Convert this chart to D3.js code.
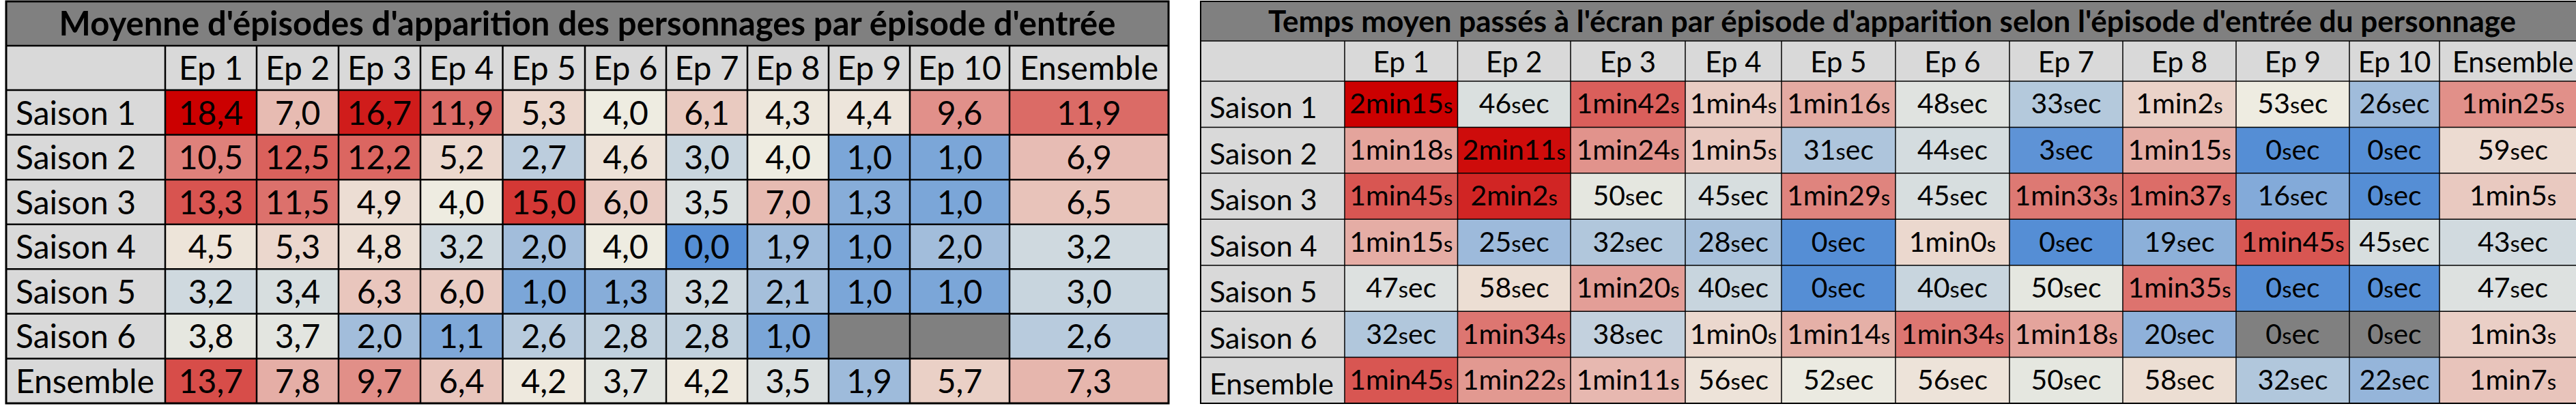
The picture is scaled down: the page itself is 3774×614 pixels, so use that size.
<!DOCTYPE html>
<html><head><meta charset="utf-8">
<script src="https://cdn.jsdelivr.net/npm/d3@7/dist/d3.min.js"></script>
<style>
body{margin:0;background:#fff}
svg{display:block}
text{font-family:Lato,"Open Sans","Noto Sans",sans-serif;fill:#000}
</style>
</head><body>
<svg id="chart" width="3774" height="614"></svg>
<script>
// ---------- data ----------
const rowLabels = ["Saison 1","Saison 2","Saison 3","Saison 4","Saison 5","Saison 6","Ensemble"];
const colLabels = ["Ep 1","Ep 2","Ep 3","Ep 4","Ep 5","Ep 6","Ep 7","Ep 8","Ep 9","Ep 10","Ensemble"];
const titleLeft = "Moyenne d'épisodes d'apparition des personnages par épisode d'entrée";
const titleRight = "Temps moyen passés à l'écran par épisode d'apparition selon l'épisode d'entrée du personnage";

// average number of episodes of appearance (null = episode does not exist)
const avgEpisodes = [
  [18.4, 7.0, 16.7, 11.9, 5.3, 4.0, 6.1, 4.3, 4.4, 9.6, 11.9],
  [10.5, 12.5, 12.2, 5.2, 2.7, 4.6, 3.0, 4.0, 1.0, 1.0, 6.9],
  [13.3, 11.5, 4.9, 4.0, 15.0, 6.0, 3.5, 7.0, 1.3, 1.0, 6.5],
  [4.5, 5.3, 4.8, 3.2, 2.0, 4.0, 0.0, 1.9, 1.0, 2.0, 3.2],
  [3.2, 3.4, 6.3, 6.0, 1.0, 1.3, 3.2, 2.1, 1.0, 1.0, 3.0],
  [3.8, 3.7, 2.0, 1.1, 2.6, 2.8, 2.8, 1.0, null, null, 2.6],
  [13.7, 7.8, 9.7, 6.4, 4.2, 3.7, 4.2, 3.5, 1.9, 5.7, 7.3]
];

// average screen time per episode of appearance, in seconds
const screenTimeSec = [
  [135, 46, 102, 64, 76, 48, 33, 62, 53, 26, 85],
  [78, 131, 84, 65, 31, 44, 3, 75, 0, 0, 59],
  [105, 122, 50, 45, 89, 45, 93, 97, 16, 0, 65],
  [75, 25, 32, 28, 0, 60, 0, 19, 105, 45, 43],
  [47, 58, 80, 40, 0, 40, 50, 95, 0, 0, 47],
  [32, 94, 38, 60, 74, 94, 78, 20, 0, 0, 63],
  [105, 82, 71, 56, 52, 56, 50, 58, 32, 22, 67]
];

// ---------- styles / layout ----------
const BLUE = "#558ED5", MID = "#EEECE1", RED = "#CC0000";
const GREY_TITLE = "#808080", GREY_HEAD = "#D9D9D9", GREY_EMPTY = "#808080";

const svg = d3.select("#chart");

function drawTable(cfg) {
  const g = svg.append("g");
  const nCols = colLabels.length + 1;
  const keys = ["__label", ...colLabels];
  const edges = [cfg.x0, ...d3.cumsum(cfg.colWidths).map(v => cfg.x0 + v)];
  const xLeft = d3.scaleOrdinal().domain(keys).range(edges.slice(0, nCols));
  const xWidth = d3.scaleOrdinal().domain(keys).range(cfg.colWidths);
  const x1 = edges[edges.length - 1];
  const headerTop = cfg.top + cfg.titleH;
  const bodyTop = headerTop + cfg.headerH;
  const y = d3.scaleBand().domain(rowLabels).range([bodyTop, bodyTop + cfg.rowH * rowLabels.length]).padding(0);
  const bottom = bodyTop + cfg.rowH * rowLabels.length;

  // title band
  g.append("rect").attr("x", cfg.x0).attr("y", cfg.top).attr("width", x1 - cfg.x0).attr("height", cfg.titleH).attr("fill", GREY_TITLE);
  g.append("text").attr("x", cfg.titleX !== undefined ? cfg.titleX : (cfg.x0 + x1) / 2).attr("y", cfg.top + cfg.titleH - cfg.titleBase)
    .attr("text-anchor", "middle").attr("font-weight", 700).attr("font-size", cfg.titleSize).text(cfg.title);

  // header row
  g.append("rect").attr("x", cfg.x0).attr("y", headerTop).attr("width", x1 - cfg.x0).attr("height", cfg.headerH).attr("fill", GREY_HEAD);
  g.selectAll(".hd").data(colLabels).join("text")
    .attr("x", d => xLeft(d) + xWidth(d) / 2)
    .attr("y", bodyTop - cfg.headBase)
    .attr("text-anchor", "middle").attr("font-size", cfg.headSize).text(d => d);

  // row labels
  g.selectAll(".rl").data(rowLabels).join("rect")
    .attr("x", cfg.x0).attr("y", d => y(d)).attr("width", xWidth("__label")).attr("height", y.bandwidth()).attr("fill", GREY_HEAD);
  g.selectAll(".rlt").data(rowLabels).join("text")
    .attr("x", cfg.x0 + cfg.labelPad).attr("y", d => y(d) + y.bandwidth() - cfg.labelBase)
    .attr("font-size", cfg.labelSize).text(d => d);

  // cells
  const cells = [];
  rowLabels.forEach((r, i) => colLabels.forEach((c, j) => {
    cells.push({r, c, v: cfg.values[i][j], missing: avgEpisodes[i][j] === null});
  }));
  g.selectAll(".cell").data(cells).join("rect")
    .attr("x", d => xLeft(d.c)).attr("y", d => y(d.r))
    .attr("width", d => xWidth(d.c)).attr("height", y.bandwidth())
    .attr("fill", d => d.missing ? GREY_EMPTY : cfg.color(d.v));
  const txt = g.selectAll(".ct").data(cells.filter(d => d.v !== null)).join("text")
    .attr("x", d => xLeft(d.c) + xWidth(d.c) / 2)
    .attr("y", d => y(d.r) + y.bandwidth() - cfg.valBase)
    .attr("text-anchor", "middle").attr("font-size", cfg.valSize);
  cfg.fillText(txt);

  // grid lines
  const gl = g.append("g").attr("stroke", "#000").attr("stroke-width", cfg.lineW);
  edges.slice(1, -1).forEach(xv => gl.append("line").attr("x1", xv).attr("x2", xv).attr("y1", headerTop).attr("y2", bottom));
  [headerTop, bodyTop, ...rowLabels.slice(1).map(r => y(r))].forEach(yv =>
    gl.append("line").attr("x1", cfg.x0).attr("x2", x1).attr("y1", yv).attr("y2", yv));
  g.append("rect").attr("x", cfg.x0).attr("y", cfg.top).attr("width", x1 - cfg.x0).attr("height", bottom - cfg.top)
    .attr("fill", "none").attr("stroke", "#000").attr("stroke-width", cfg.outerW);
}

const fmtDec = v => d3.format(".1f")(v).replace(".", ",");

drawTable({
  x0: 9, top: 2, titleH: 65, headerH: 65, rowH: (591 - 132) / 7,
  colWidths: [233, 134, 120, 120, 120.5, 120.5, 119, 119, 119, 119, 146, 233],
  title: titleLeft, titleSize: 49, titleBase: 15,
  headSize: 48, headBase: 15, labelSize: 48, labelBase: 15, labelPad: 14,
  valSize: 48, valBase: 15, lineW: 2.5, outerW: 3,
  values: avgEpisodes,
  color: d3.scaleLinear().domain([d3.min(avgEpisodes.flat()), 4, d3.max(avgEpisodes.flat())]).range([BLUE, MID, RED]),
  fillText: sel => sel.text(d => fmtDec(d.v))
});

drawTable({
  x0: 1759, top: 2, titleH: 58, headerH: 59, rowH: (591 - 119) / 7,
  colWidths: [211, 165.5, 165.5, 168, 141, 167, 167, 166, 166, 166, 132, 215],
  title: titleRight, titleSize: 44, titleBase: 13, titleX: 2772,
  headSize: 42, headBase: 13, labelSize: 43, labelBase: 13, labelPad: 13,
  valSize: 41, valBase: 20, lineW: 1.5, outerW: 2,
  values: screenTimeSec,
  color: d3.scaleLinear().domain([d3.min(screenTimeSec.flat()), 53, d3.max(screenTimeSec.flat())]).range([BLUE, MID, RED]),
  fillText: sel => sel.each(function(d) {
    const t = d3.select(this);
    const m = Math.floor(d.v / 60), s = d.v % 60;
    if (m > 0) {
      t.append("tspan").text(m);
      t.append("tspan").text("min");
      t.append("tspan").text(s);
      t.append("tspan").attr("font-size", 31).text("s");
    } else {
      t.append("tspan").text(s);
      t.append("tspan").attr("font-size", 33).text("s");
      t.append("tspan").text("ec");
    }
  })
});
</script>
</body></html>
